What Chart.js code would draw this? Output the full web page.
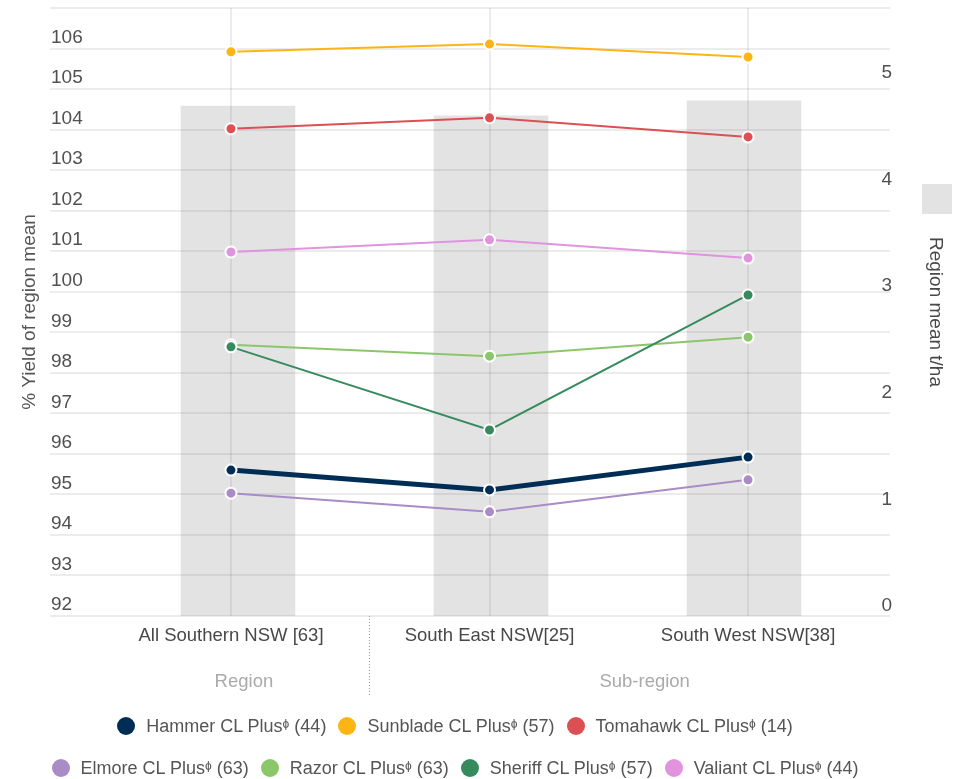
<!DOCTYPE html>
<html>
<head>
<meta charset="utf-8">
<script src="https://cdn.jsdelivr.net/npm/chart.js@4.4.1/dist/chart.umd.min.js"></script>
<style>
  body { margin: 0; background: #fff; }
  #wrap { position: relative; width: 962px; height: 779px; }
  #legend { position: absolute; left: 0; top: 705px; width: 910px; font-family: "Liberation Sans", Arial, sans-serif; font-size: 18px; color: #555; }
  .row { display: flex; justify-content: center; gap: 12px; height: 42px; align-items: center; }
  .item { display: flex; align-items: center; white-space: nowrap; }
  .dot { width: 18px; height: 18px; border-radius: 50%; margin-right: 11px; }
</style>
</head>
<body>
<div id="wrap">
  <canvas id="canvas" width="962" height="779"></canvas>
  <div id="legend"></div>
</div>
<script>
// categories and values
const categories = ["All Southern NSW [63]", "South East NSW[25]", "South West NSW[38]"];
const groups = ["Region", "Sub-region"];

const names = [
    "Hammer CL Plusᶲ (44)",
    "Sunblade CL Plusᶲ (57)",
    "Tomahawk CL Plusᶲ (14)",
    "Elmore CL Plusᶲ (63)",
    "Razor CL Plusᶲ (63)",
    "Sheriff CL Plusᶲ (57)",
    "Valiant CL Plusᶲ (44)"
];
const colors = ["#002d56", "#fdb515", "#dc4f53", "#a98bc6", "#8cc66b", "#358b5e", "#e193de"];

const hammer = [95.60, 95.11, 95.92];
const sunblade = [105.92, 106.11, 105.79];
const tomahawk = [104.02, 104.29, 103.82];
const elmore = [95.03, 94.57, 95.36];
const razor = [98.69, 98.41, 98.88];
const sheriff = [98.64, 96.59, 99.92];
const valiant = [100.98, 101.28, 100.83];
const series = [hammer, sunblade, tomahawk, elmore, razor, sheriff, valiant];

// region mean t/ha (right axis, grey bars)
const regionMean = [4.78, 4.69, 4.83];

const yTicks = [92, 93, 94, 95, 96, 97, 98, 99, 100, 101, 102, 103, 104, 105, 106, 107];
const y2Ticks = [0, 1, 2, 3, 4, 5];

const font = "'Liberation Sans', Arial, sans-serif";
const gridColor = "rgba(0,0,0,0.075)";

// line datasets
const lineSets = series.map((vals, i) => ({
    type: "line",
    label: names[i],
    data: vals.map((v, j) => ({ x: j, y: v })),
    borderColor: colors[i],
    backgroundColor: colors[i],
    borderWidth: i === 0 ? 5 : 2,
    pointRadius: 5.5,
    pointHoverRadius: 5.5,
    pointBorderColor: "#fff",
    pointBorderWidth: 2,
    xAxisID: "x",
    yAxisID: "y",
    order: i === 0 ? 0 : (i === 4 ? 2 : 1)
}));

const barSet = {
    type: "bar",
    label: "Region mean t/ha",
    data: regionMean.map((v, j) => ({ x: j, y: v })),
    backgroundColor: "rgba(0,0,0,0.11)",
    grouped: false,
    barThickness: 114,
    maxBarThickness: 114,
    xAxisID: "xb",
    yAxisID: "y2",
    order: 10
};

// extra texts: group labels, separator, grey key square
const extras = {
    id: "extras",
    afterDraw(chart) {
        const ctx = chart.ctx;
        const x = chart.scales.x;
        const bottom = chart.chartArea.bottom;
        ctx.save();
        ctx.fillStyle = "#aaa";
        ctx.font = "18.5px " + font;
        ctx.textAlign = "center";
        ctx.textBaseline = "middle";
        ctx.fillText(groups[0], x.getPixelForValue(0.05), 682);
        ctx.fillText(groups[1], x.getPixelForValue(1.6), 682);

        ctx.strokeStyle = "#999";
        ctx.lineWidth = 1;
        ctx.setLineDash([1, 2]);
        const sx = Math.round(x.getPixelForValue(0.534)) + 0.5;
        ctx.beginPath();
        ctx.moveTo(sx, bottom);
        ctx.lineTo(sx, 695);
        ctx.stroke();
        ctx.setLineDash([]);

        ctx.fillStyle = "#e3e3e3";
        ctx.fillRect(922, 184, 30, 30);
        ctx.restore();
    }
};

const noPad = s => { s.paddingTop = 0; s.paddingBottom = 0; };

const canvasChart = document.getElementById("canvas").getContext("2d");

const chart = new Chart(canvasChart, {
    data: {
        datasets: [...lineSets, barSet]
    },
    options: {
        responsive: false,
        animation: false,
        layout: { padding: { top: 8, left: 0, right: 0, bottom: 0 } },
        plugins: {
            legend: { display: false },
            tooltip: { enabled: false }
        },
        scales: {
            x: {
                type: "linear",
                min: -0.7,
                max: 2.549,
                afterBuildTicks: s => { s.ticks = [0, 1, 2].map(v => ({ value: v })); },
                afterFit: s => { s.height = 163; },
                ticks: {
                    callback: v => categories[v],
                    color: "#484848",
                    padding: 9,
                    maxRotation: 0,
                    font: { family: font, size: 18.5 }
                },
                grid: { color: gridColor, lineWidth: 2, drawTicks: false },
                border: { display: false }
            },
            xb: {
                type: "linear",
                display: false,
                offset: false,
                min: -0.743,
                max: 2.577
            },
            y: {
                position: "left",
                min: 92,
                max: 107,
                afterBuildTicks: s => { s.ticks = yTicks.map(v => ({ value: v })); },
                afterFit: s => { s.width = 50; noPad(s); },
                ticks: {
                    mirror: true,
                    padding: 1,
                    labelOffset: -11,
                    color: "#505050",
                    callback: v => (v === 107 ? "" : v),
                    font: { family: font, size: 19 }
                },
                grid: { color: gridColor, lineWidth: 2, drawTicks: false },
                border: { display: false },
                title: {
                    display: true,
                    text: "% Yield of region mean",
                    color: "#555",
                    padding: { top: 18, bottom: 0 },
                    font: { family: font, size: 19 }
                }
            },
            y2: {
                position: "right",
                min: 0,
                max: 5.7,
                afterBuildTicks: s => { s.ticks = y2Ticks.map(v => ({ value: v })); },
                afterFit: s => { s.width = 72; noPad(s); },
                ticks: {
                    mirror: true,
                    padding: 2,
                    labelOffset: -10,
                    color: "#505050",
                    font: { family: font, size: 19 }
                },
                grid: { display: false, drawTicks: false },
                border: { display: false },
                title: {
                    display: true,
                    text: "Region mean t/ha",
                    color: "#484848",
                    padding: { top: 15, bottom: 0 },
                    font: { family: font, size: 19 }
                }
            }
        }
    },
    plugins: [extras]
});

// legend, two rows like the original
const legend = document.getElementById("legend");
[[0, 1, 2], [3, 4, 5, 6]].forEach(idx => {
    const row = document.createElement("div");
    row.className = "row";
    idx.forEach(i => {
        const item = document.createElement("div");
        item.className = "item";
        const dot = document.createElement("span");
        dot.className = "dot";
        dot.style.background = colors[i];
        const txt = document.createElement("span");
        txt.textContent = names[i];
        item.appendChild(dot);
        item.appendChild(txt);
        row.appendChild(item);
    });
    legend.appendChild(row);
});
</script>
</body>
</html>
